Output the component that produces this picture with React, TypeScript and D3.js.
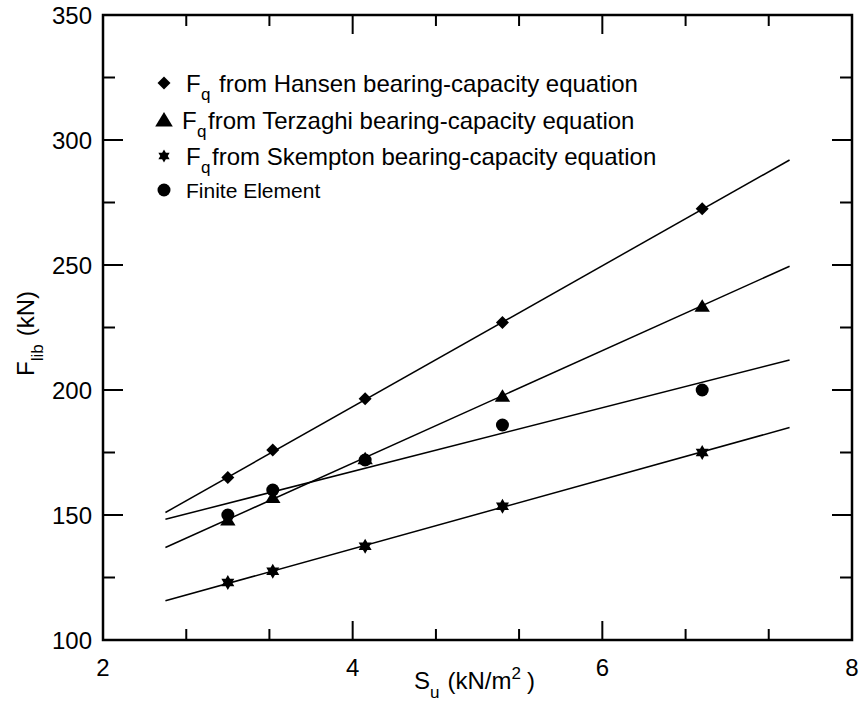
import { useEffect, useRef } from "react";
import * as d3 from "d3";

// S_u values (kN/m^2) shared by all series
const suValues = [3.0, 3.36, 4.1, 5.2, 6.8];
const hansen = [165, 176, 196.5, 227, 272.5];
const terzaghi = [148, 157, 172.5, 197.5, 233.5];
const skempton = [123, 127.5, 137.5, 153.5, 175];
const finiteElement = [150, 160, 172, 186, 200];

// fitted straight lines, read at both ends
const fitX = [2.5, 7.5];
const hansenFit = [151, 292];
const terzaghiFit = [137, 249.5];
const skemptonFit = [115.7, 185];
const feFit = [148.3, 212];

const xMajorTicks = [2, 4, 6, 8];
const xMinorTicks = [2.667, 3.333, 4.667, 5.333, 6.667, 7.333];
const yMajorTicks = [100, 150, 200, 250, 300, 350];
const yMinorTicks = [125, 175, 225, 275, 325];

const legendLabels = [
  "from Hansen bearing-capacity equation",
  "from Terzaghi bearing-capacity equation",
  "from Skempton bearing-capacity equation",
  "Finite Element",
];

const W = 861;
const H = 704;
const FONT = "Arial, 'Liberation Sans', Helvetica, sans-serif";

const markerPath = (kind: string, s: number) => {
  if (kind === "diamond") return `M0,${-s}L${s},0L0,${s}L${-s},0Z`;
  if (kind === "triangle") return `M0,${-s}L${s * 1.1},${s * 0.8}L${-s * 1.1},${s * 0.8}Z`;
  if (kind === "star") {
    const r = s;
    const pts = (a0: number) =>
      d3.range(3).map((i) => {
        const a = a0 + (i * 2 * Math.PI) / 3;
        return `${r * Math.sin(a)},${-r * Math.cos(a)}`;
      });
    return `M${pts(0).join("L")}Z M${pts(Math.PI).join("L")}Z`;
  }
  return d3.symbol(d3.symbolCircle, Math.PI * s * s)() as string;
};

const App = () => {
  const svgRef = useRef<SVGSVGElement>(null);

  useEffect(() => {
    const svg = d3.select(svgRef.current);
    svg.selectAll("*").remove();

    const left = 103;
    const right = 852;
    const top = 15;
    const bottom = 640;

    const x = d3.scaleLinear().domain([2, 8]).range([left, right]);
    const y = d3.scaleLinear().domain([100, 350]).range([bottom, top]);

    const g = svg.append("g");

    // ticks, pointing inward on all four sides
    const tick = (x1: number, y1: number, x2: number, y2: number) =>
      g.append("line")
        .attr("x1", x1).attr("y1", y1).attr("x2", x2).attr("y2", y2)
        .attr("stroke", "#000").attr("stroke-width", 2);

    xMajorTicks.forEach((v) => {
      tick(x(v), bottom, x(v), bottom - 19);
      tick(x(v), top, x(v), top + 19);
    });
    xMinorTicks.forEach((v) => {
      tick(x(v), bottom, x(v), bottom - 11);
      tick(x(v), top, x(v), top + 11);
    });
    yMajorTicks.forEach((v) => {
      tick(left, y(v), left + 20, y(v));
      tick(right, y(v), right - 20, y(v));
    });
    yMinorTicks.forEach((v) => {
      tick(left, y(v), left + 12, y(v));
      tick(right, y(v), right - 12, y(v));
    });

    // frame
    g.append("rect")
      .attr("x", left).attr("y", top)
      .attr("width", right - left).attr("height", bottom - top)
      .attr("fill", "none").attr("stroke", "#000").attr("stroke-width", 2.5);

    // tick labels
    g.selectAll(".xl").data(xMajorTicks).enter().append("text")
      .attr("x", (d) => x(d)).attr("y", 676)
      .attr("text-anchor", "middle")
      .style("font-family", FONT).style("font-size", "24px")
      .text((d) => d);

    g.selectAll(".yl").data(yMajorTicks).enter().append("text")
      .attr("x", 92).attr("y", (d) => y(d)).attr("dy", "0.36em")
      .attr("text-anchor", "end")
      .style("font-family", FONT).style("font-size", "24px")
      .text((d) => d);

    // axis titles
    const xt = g.append("text")
      .attr("x", 414).attr("y", 689)
      .style("font-family", FONT).style("font-size", "24px");
    xt.append("tspan").text("S");
    xt.append("tspan").attr("dy", 9).style("font-size", "17px").text("u");
    xt.append("tspan").attr("dy", -9).attr("dx", 8).text("(kN/m");
    xt.append("tspan").attr("dy", -10).style("font-size", "17px").text("2");
    xt.append("tspan").attr("dy", 10).attr("dx", 6).text(")");

    const yt = g.append("text")
      .attr("transform", "translate(34, 376) rotate(-90)")
      .style("font-family", FONT).style("font-size", "24px");
    yt.append("tspan").text("F");
    yt.append("tspan").attr("dy", 9).style("font-size", "17px").text("lib");
    yt.append("tspan").attr("dy", -9).attr("dx", 8).text("(kN)");

    // fitted lines
    const line = d3.line<number>().x((d, i) => x(fitX[i])).y((d) => y(d));
    [hansenFit, terzaghiFit, skemptonFit, feFit].forEach((fit) => {
      g.append("path")
        .attr("d", line(fit))
        .attr("fill", "none").attr("stroke", "#000").attr("stroke-width", 1.5);
    });

    // markers
    const series = [
      { values: hansen, kind: "diamond", s: 6.5 },
      { values: terzaghi, kind: "triangle", s: 7 },
      { values: skempton, kind: "star", s: 7.5 },
      { values: finiteElement, kind: "circle", s: 6.5 },
    ];
    series.forEach((sr) => {
      g.selectAll(null).data(sr.values).enter().append("path")
        .attr("transform", (d, i) => `translate(${x(suValues[i])},${y(d)})`)
        .attr("d", markerPath(sr.kind, sr.s))
        .attr("fill", "#000");
    });

    // legend
    const legendY = [92, 129, 165, 198];
    const legendMarkerY = [83, 120, 156, 190];
    const fX = [186, 182, 186];
    const restX = [219, 208, 212, 186];
    series.forEach((sr, i) => {
      g.append("path")
        .attr("transform", `translate(164,${legendMarkerY[i]})`)
        .attr("d", markerPath(sr.kind, sr.kind === "triangle" ? 8 : 6.5))
        .attr("fill", "#000");
      if (i < 3) {
        g.append("text")
          .attr("x", fX[i]).attr("y", legendY[i])
          .style("font-family", FONT).style("font-size", "24px")
          .text("F");
        g.append("text")
          .attr("x", fX[i] + 15).attr("y", legendY[i] + 8)
          .style("font-family", FONT).style("font-size", "17px")
          .text("q");
      }
      g.append("text")
        .attr("x", restX[i]).attr("y", legendY[i])
        .style("font-family", FONT).style("font-size", i < 3 ? "24px" : "21px")
        .text(legendLabels[i]);
    });
  }, []);

  return (
    <svg
      ref={svgRef}
      width={W}
      height={H}
      viewBox={`0 0 ${W} ${H}`}
      style={{ position: "absolute", left: 0, top: 0, background: "#fff" }}
    ></svg>
  );
};

export default App;
